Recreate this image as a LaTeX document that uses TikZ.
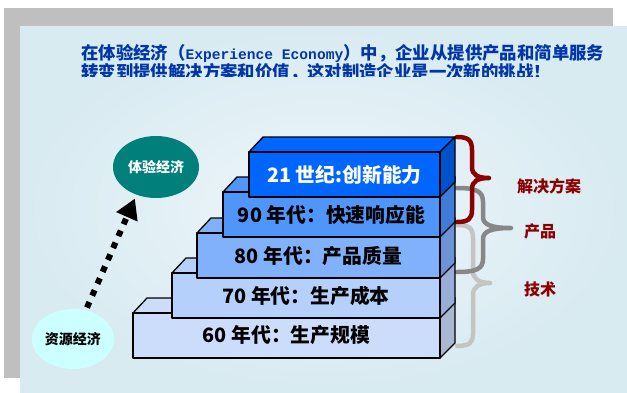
\documentclass[tikz,border=0pt]{standalone}
\usepackage{fontspec}
\newfontfamily\cjk{Noto Sans CJK SC}
\newfontfamily\monof{Liberation Mono}
\usetikzlibrary{shapes.geometric,arrows.meta}
\definecolor{graybg}{HTML}{BFBFBF}
\definecolor{panelin}{HTML}{EEF6FA}
\definecolor{panelout}{HTML}{D8EBF1}
\definecolor{titleblue}{HTML}{0036A8}
\definecolor{cA}{HTML}{CCDDFC}
\definecolor{sA}{HTML}{A8B8D2}
\definecolor{cB}{HTML}{B4D0FB}
\definecolor{sB}{HTML}{97AED8}
\definecolor{cC}{HTML}{80B1FA}
\definecolor{sC}{HTML}{6B93D6}
\definecolor{cD}{HTML}{4F95FA}
\definecolor{sD}{HTML}{3F7BD8}
\definecolor{cE}{HTML}{0066FF}
\definecolor{sE}{HTML}{0052CC}
\definecolor{tealc}{HTML}{007F7B}
\definecolor{cyanl}{HTML}{CCFFFF}
\definecolor{darkred}{HTML}{8B0000}
\definecolor{braceg}{HTML}{878787}
\definecolor{bracelg}{HTML}{C4C4C4}
\newcommand\stepblock[7]{%
  \pgfmathsetmacro\bw{440-#2}%
  \filldraw[blockline, fill=#4] (#2,#3) -- ({#2+14},{#3-15}) -- (455,{#3-15}) -- (440,#3) -- cycle;
  \filldraw[blockline, fill=#5] (440,#3) -- (455,{#3-15}) -- (455,{#3+30}) -- (440,{#3+45}) -- cycle;
  \node[blockfront, fill=#4, text=#7, minimum width=\bw pt] (#1) at ({(#2+440)/2},{#3+22.5}) {#6};
}
\begin{document}
\begin{tikzpicture}[x=1pt,y=-1pt,
  blockline/.style={draw=black, line width=1.3pt, line join=round},
  blockfront/.style={blockline, rectangle, minimum height=45pt, inner sep=0pt,
    font=\cjk\bfseries\fontsize{19.8}{22}\selectfont},
  titletext/.style={anchor=west, inner sep=0pt, text=titleblue,
    font=\cjk\bfseries\fontsize{17.4}{20}\selectfont},
  econ/.style={ellipse, inner sep=0pt, font=\cjk\bfseries\fontsize{14}{16}\selectfont},
  bracestyle/.style={line width=4.5pt, line cap=round, line join=round},
  bracelabel/.style={text=darkred, inner sep=0pt, font=\cjk\bfseries\fontsize{16}{18}\selectfont},
  dotarrow/.style={line width=6pt, dash pattern=on 6pt off 7pt,
    -{Triangle[length=20pt,width=22pt]}, shorten <=3pt, shorten >=4pt}]
\useasboundingbox (0,0) rectangle (627,392);
\fill[graybg] (4,8) rectangle (613,378);
\shade[inner color=panelin, outer color=panelout] (20,26) rectangle (627,392);
% title
\node[titletext] (t1) at (81,53) {在体验经济（{\monof\bfseries\fontsize{14.6}{16}\selectfont Experience Economy}）中，企业从提供产品和简单服务};
\begin{scope}
  \clip (0,0) rectangle (627,76.5);
  \node[titletext] (t2) at (81,72.5) {转变到提供解决方案和价值，这对制造企业是一次新的挑战！};
\end{scope}
% braces (behind to front)
\draw[bracestyle, bracelg] (457,225) .. controls (469,225) and (473,228) .. (473,238) -- (473,271) .. controls (473,279) and (479,283) .. (490,283) .. controls (479,283) and (473,287) .. (473,295) -- (473,334) .. controls (473,343) and (469,346) .. (457,346);
\draw[bracestyle, braceg] (457,188) .. controls (476,188) and (483,191) .. (483,202) -- (483,217) .. controls (483,225) and (492,228) .. (511,228) .. controls (492,228) and (483,231) .. (483,239) -- (483,259) .. controls (483,269) and (476,272) .. (457,272);
\draw[bracestyle, darkred] (457,137) .. controls (468,137) and (472,140) .. (472,150) -- (472,167) .. controls (472,175) and (478,178) .. (489,178) .. controls (478,178) and (472,181) .. (472,189) -- (472,210) .. controls (472,219) and (468,222) .. (457,222);
\node[bracelabel] (l1) at (549,186) {解决方案};
\node[bracelabel] (l2) at (540,231) {产品};
\node[bracelabel] (l3) at (540,289) {技术};
% steps
\stepblock{b60}{133}{313}{cA}{sA}{60 年代：生产规模}{black}
\stepblock{b70}{172}{273}{cB}{sB}{70 年代：生产成本}{black}
\stepblock{b80}{197}{233}{cC}{sC}{80 年代：产品质量}{black}
\stepblock{b90}{223}{192}{cD}{sD}{90 年代：快速响应能}{black}
\stepblock{b21}{249}{152}{cE}{sE}{21 世纪:创新能力}{white}
% economies
\node[econ, fill=tealc, text=white, minimum width=86pt, minimum height=62pt] (exp) at (156,167) {体验经济};
\node[econ, fill=cyanl, text=black, minimum width=82pt, minimum height=60pt] (res) at (73,339) {资源经济};
\draw[dotarrow] (res.66) -- (exp.235);
\end{tikzpicture}
\end{document}
